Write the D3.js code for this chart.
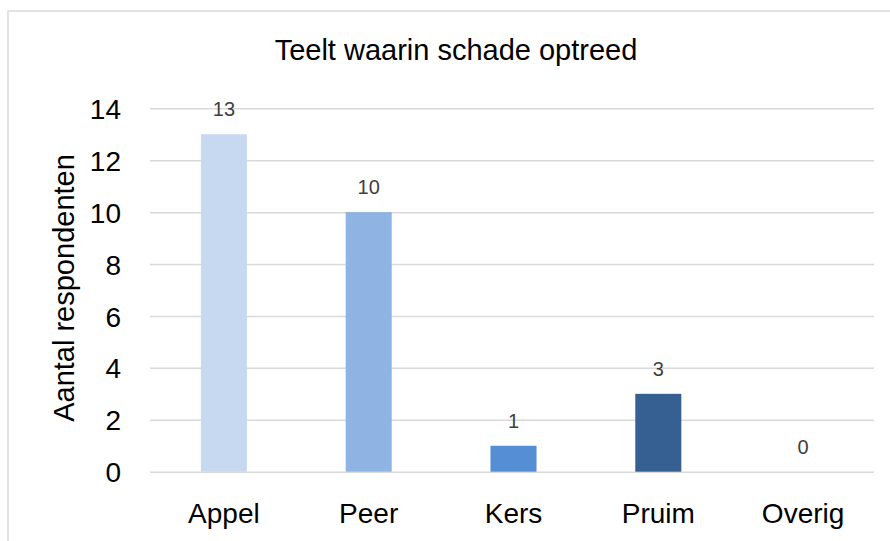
<!DOCTYPE html>
<html>
<head>
<meta charset="utf-8">
<script src="https://cdn.jsdelivr.net/npm/d3@7"></script>
<style>
  body { margin: 0; background: #fff; }
  text { font-family: "Liberation Sans", Arial, sans-serif; }
</style>
</head>
<body>
<div id="chart"></div>
<script>
var categories = ["Appel", "Peer", "Kers", "Pruim", "Overig"],
    values = [13, 10, 1, 3, 0],
    colors = ["#c6d9f1", "#8fb4e3", "#558ed5", "#376092", "#376092"],
    yTicks = [0, 2, 4, 6, 8, 10, 12, 14],
    title = "Teelt waarin schade optreed",
    yTitle = "Aantal respondenten";

var width = 890, height = 541,
    plot = { left: 150, right: 874, top: 108.3, bottom: 471.7 };

var svg = d3.select("#chart").append("svg")
    .attr("width", width)
    .attr("height", height);

// chart area border
svg.append("rect")
    .attr("x", 8).attr("y", 11)
    .attr("width", 900).attr("height", 560)
    .style("fill", "none")
    .style("stroke", "#d9d9d9")
    .style("stroke-width", 1.5);

var x = d3.scaleBand()
    .domain(categories)
    .range([151.5, 875.5])
    .paddingInner(0.682)
    .paddingOuter(0.341);

var y = d3.scaleLinear()
    .domain([0, 14])
    .range([plot.bottom, plot.top]);

// gridlines + y tick labels
var yAxis = svg.append("g")
    .attr("transform", "translate(" + plot.left + ",0)")
    .call(d3.axisLeft(y).tickValues(yTicks).tickSize(-(plot.right - plot.left)).tickPadding(29));

yAxis.select(".domain").remove();
yAxis.selectAll(".tick line")
    .style("stroke", "#d9d9d9")
    .style("stroke-width", 1.5);
yAxis.selectAll(".tick text")
    .style("font-size", "28px")
    .style("fill", "#000")
    .attr("dy", "0.36em");

// bars
svg.selectAll(".bar")
    .data(values)
    .enter().append("rect")
      .attr("class", "bar")
      .attr("x", function(d, i) { return x(categories[i]); })
      .attr("y", function(d) { return y(d); })
      .attr("width", x.bandwidth())
      .attr("height", function(d) { return y(0) - y(d); })
      .style("fill", function(d, i) { return colors[i]; });

// value labels
svg.selectAll(".value")
    .data(values)
    .enter().append("text")
      .attr("class", "value")
      .attr("x", function(d, i) { return x(categories[i]) + x.bandwidth() / 2; })
      .attr("y", function(d) { return y(d) - 18; })
      .style("text-anchor", "middle")
      .style("font-size", "20px")
      .style("fill", "#404040")
      .text(function(d) { return d; });

// category labels
svg.selectAll(".cat")
    .data(categories)
    .enter().append("text")
      .attr("class", "cat")
      .attr("x", function(d) { return x(d) + x.bandwidth() / 2; })
      .attr("y", 523)
      .style("text-anchor", "middle")
      .style("font-size", "28px")
      .style("fill", "#000")
      .text(function(d) { return d; });

// title
svg.append("text")
    .attr("x", 456)
    .attr("y", 60)
    .style("text-anchor", "middle")
    .style("font-size", "29px")
    .style("fill", "#000")
    .text(title);

// y axis title
svg.append("text")
    .attr("transform", "translate(74,288) rotate(-90)")
    .style("text-anchor", "middle")
    .style("font-size", "29px")
    .style("fill", "#000")
    .text(yTitle);
</script>
</body>
</html>
